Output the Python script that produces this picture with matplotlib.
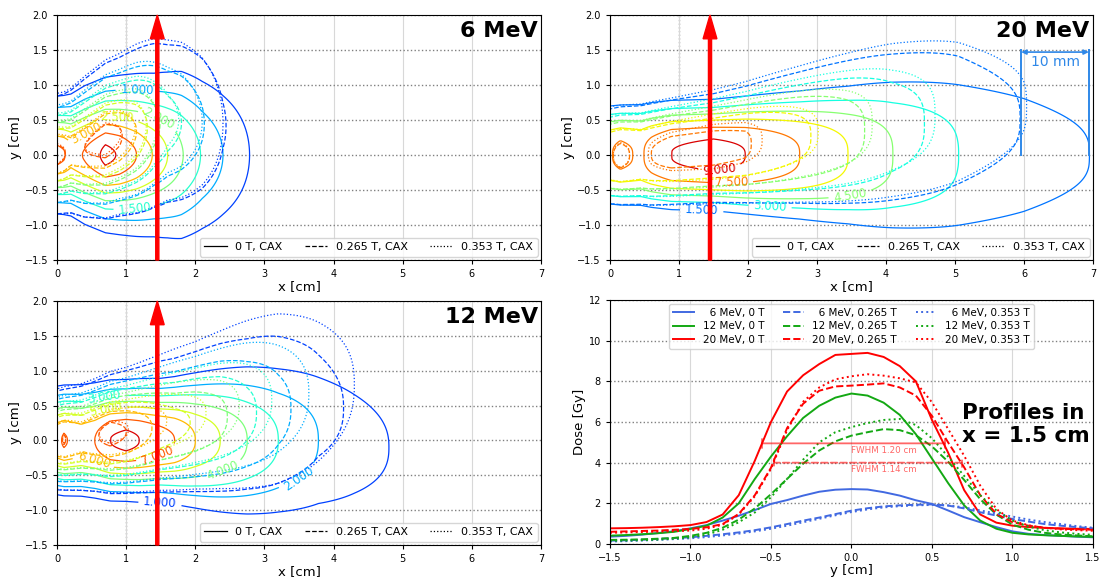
import numpy as np
import matplotlib
matplotlib.use('Agg')
import matplotlib.pyplot as plt
from matplotlib.colors import Normalize
from matplotlib.lines import Line2D

fields = ['0 T', '0.265 T', '0.353 T']
styles = ['solid', 'dashed', 'dotted']

# --- dose maps: per energy, central dose / beam centre / lateral width at depth nodes
# order inside each list: 0 T, 0.265 T, 0.353 T
depth6 = [0, 0.1, 0.2, 0.4, 0.7, 0.9, 1.15, 1.4, 1.6, 1.8, 2.1, 2.4, 2.8, 3.2, 7.0]
dose6 = [[3.7, 3.55, 3.25, 3.55, 4.15, 3.95, 3.5, 2.95, 2.5, 2.05, 1.45, 1.0, 0.48, 0.1, 0.0],
         [3.7, 3.55, 3.3, 3.5, 3.85, 3.6, 3.0, 2.2, 1.75, 1.5, 1.05, 0.55, 0.1, 0.0, 0.0],
         [3.7, 3.55, 3.3, 3.5, 3.8, 3.55, 2.95, 2.15, 1.7, 1.45, 1.0, 0.5, 0.08, 0.0, 0.0]]
centre6 = [[0.0] * 15,
           [0.0, 0.02, 0.05, 0.1, 0.2, 0.26, 0.34, 0.42, 0.45, 0.46, 0.45, 0.42, 0.4, 0.4, 0.4],
           [0.02, 0.03, 0.06, 0.12, 0.23, 0.3, 0.38, 0.46, 0.5, 0.5, 0.48, 0.45, 0.42, 0.42, 0.42]]
width6 = [[0.42, 0.43, 0.45, 0.5, 0.54, 0.56, 0.59, 0.62, 0.66, 0.71, 0.72, 0.72, 0.7, 0.65, 0.6],
          [0.42, 0.43, 0.45, 0.5, 0.55, 0.57, 0.62, 0.68, 0.71, 0.74, 0.76, 0.74, 0.7, 0.7, 0.7],
          [0.43, 0.44, 0.46, 0.51, 0.56, 0.58, 0.64, 0.7, 0.73, 0.76, 0.77, 0.75, 0.7, 0.7, 0.7]]
levels6 = [0.5, 1.0, 1.5, 2.0, 2.5, 3.0, 3.5, 4.0]
lab6 = [(1.0, 1.16, 0.88), (1.5, 1.13, -0.7), (2.0, 1.47, 0.51), (2.5, 0.87, 0.51), (3.0, 0.43, 0.36)]

depth12 = [0, 0.1, 0.35, 0.55, 0.77, 1.0, 1.19, 1.5, 1.7, 2.0, 2.36, 2.75, 3.2, 3.78, 4.3, 4.8, 5.3, 7.0]
dose12 = [[6.8, 7.1, 6.6, 7.0, 8.0, 8.25, 8.0, 7.4, 7.0, 6.0, 5.0, 4.0, 3.0, 2.0, 1.45, 1.0, 0.3, 0.0],
          [6.8, 7.05, 6.55, 6.9, 7.3, 7.0, 6.5, 5.65, 5.3, 4.9, 4.25, 3.3, 2.3, 1.35, 0.85, 0.2, 0.0, 0.0],
          [6.8, 7.05, 6.55, 6.9, 7.25, 7.05, 6.75, 6.15, 5.8, 5.3, 4.6, 3.75, 2.8, 1.75, 1.0, 0.45, 0.0, 0.0]]
centre12 = [[0.0] * 14 + [-0.05, -0.1, -0.1, -0.1],
            [0.0, 0.01, 0.03, 0.06, 0.09, 0.12, 0.15, 0.2, 0.22, 0.27, 0.33, 0.38, 0.44, 0.5, 0.45, 0.4, 0.4, 0.4],
            [0.02, 0.03, 0.05, 0.08, 0.12, 0.15, 0.19, 0.26, 0.3, 0.36, 0.44, 0.52, 0.6, 0.7, 0.8, 0.85, 0.85, 0.85]]
width12 = [[0.445, 0.45, 0.46, 0.47, 0.48, 0.48, 0.49, 0.5, 0.52, 0.57, 0.63, 0.69, 0.74, 0.79, 0.8, 0.78, 0.75, 0.7],
           [0.405, 0.41, 0.43, 0.45, 0.48, 0.5, 0.52, 0.56, 0.58, 0.62, 0.68, 0.75, 0.85, 0.9, 0.85, 0.8, 0.8, 0.8],
           [0.41, 0.42, 0.44, 0.46, 0.49, 0.51, 0.53, 0.57, 0.6, 0.64, 0.71, 0.8, 0.9, 0.95, 0.9, 0.85, 0.85, 0.85]]
levels12 = [1.0, 2.0, 3.0, 4.0, 5.0, 6.0, 7.0, 8.0]
lab12 = [(1.0, 1.49, -0.91), (2.0, 3.49, -0.45), (3.0, 0.68, 0.63), (4.0, 2.39, -0.35),
         (5.0, 0.7, 0.51), (6.0, 0.53, -0.27), (7.0, 1.45, -0.16)]

depth20 = [0, 0.15, 0.45, 0.6, 0.89, 1.5, 1.96, 2.75, 3.45, 4.1, 5.05, 6.0, 6.95, 7.0]
dose20 = [[7.4, 7.8, 7.3, 8.0, 9.0, 9.4, 9.0, 7.5, 6.0, 4.5, 3.0, 2.2, 1.5, 1.45],
          [7.4, 7.7, 7.25, 7.5, 7.85, 7.9, 7.65, 6.3, 5.0, 3.65, 2.3, 1.45, 0.2, 0.15],
          [7.4, 7.7, 7.25, 7.6, 8.1, 8.3, 7.95, 6.5, 5.2, 3.9, 2.5, 1.55, 0.3, 0.2]]
centre20 = [[0.0] * 14,
            [-0.02, -0.01, 0.0, 0.01, 0.04, 0.1, 0.15, 0.25, 0.33, 0.4, 0.5, 0.52, 0.5, 0.5],
            [0.0, 0.0, 0.01, 0.02, 0.05, 0.12, 0.18, 0.3, 0.4, 0.5, 0.62, 0.7, 0.7, 0.7]]
width20 = [[0.475, 0.48, 0.49, 0.5, 0.51, 0.516, 0.55, 0.62, 0.7, 0.8, 0.9, 0.88, 0.75, 0.75],
           [0.46, 0.47, 0.48, 0.49, 0.5, 0.52, 0.56, 0.66, 0.76, 0.86, 0.96, 0.8, 0.7, 0.7],
           [0.47, 0.48, 0.49, 0.5, 0.51, 0.54, 0.58, 0.68, 0.78, 0.88, 0.98, 0.85, 0.7, 0.7]]
levels20 = [1.5, 3.0, 4.5, 6.0, 7.5, 9.0]
lab20 = [(1.5, 1.33, -0.78), (3.0, 2.32, -0.67), (4.5, 3.48, -0.4), (7.5, 1.76, -0.33), (9.0, 1.59, -0.18)]

# --- profiles at x = 1.5 cm
prof_y = np.round(np.arange(-1.5, 1.51, 0.1), 2)
prof6 = [[0.36, 0.4, 0.46, 0.54, 0.63, 0.77, 0.93, 1.15, 1.39, 1.67, 1.97, 2.16, 2.38, 2.57, 2.67, 2.7,
          2.68, 2.55, 2.38, 2.15, 1.97, 1.65, 1.32, 1.07, 0.83, 0.62, 0.5, 0.44, 0.4, 0.36, 0.33],
         [0.16, 0.18, 0.21, 0.25, 0.29, 0.33, 0.4, 0.48, 0.57, 0.68, 0.82, 0.98, 1.15, 1.3, 1.47, 1.64,
          1.76, 1.85, 1.9, 1.93, 1.95, 1.89, 1.75, 1.56, 1.4, 1.23, 1.1, 0.98, 0.9, 0.83, 0.77],
         [0.12, 0.14, 0.17, 0.2, 0.24, 0.28, 0.34, 0.42, 0.51, 0.62, 0.75, 0.9, 1.07, 1.24, 1.41, 1.57,
          1.7, 1.8, 1.86, 1.9, 1.92, 1.9, 1.8, 1.65, 1.5, 1.35, 1.2, 1.08, 0.98, 0.88, 0.8]]
prof12 = [[0.41, 0.44, 0.48, 0.53, 0.6, 0.74, 0.9, 1.3, 2.0, 3.2, 4.3, 5.3, 6.2, 6.8, 7.2, 7.4,
           7.3, 6.95, 6.35, 5.4, 4.2, 3.0, 1.9, 1.15, 0.75, 0.55, 0.47, 0.43, 0.4, 0.37, 0.35],
          [0.2, 0.21, 0.23, 0.26, 0.3, 0.4, 0.55, 0.8, 1.2, 1.75, 2.45, 3.2, 3.95, 4.6, 5.05, 5.33,
           5.5, 5.65, 5.6, 5.35, 4.8, 4.05, 3.15, 2.2, 1.45, 0.95, 0.7, 0.55, 0.47, 0.42, 0.38],
          [0.16, 0.17, 0.19, 0.22, 0.26, 0.33, 0.46, 0.7, 1.07, 1.55, 2.3, 3.2, 4.15, 5.0, 5.5, 5.75,
           5.95, 6.1, 6.15, 5.85, 5.2, 4.3, 3.35, 2.4, 1.65, 1.15, 0.85, 0.68, 0.57, 0.5, 0.45]]
prof20 = [[0.77, 0.78, 0.8, 0.83, 0.87, 0.93, 1.08, 1.45, 2.4, 4.1, 6.0, 7.5, 8.3, 8.85, 9.3, 9.35,
           9.4, 9.2, 8.75, 8.0, 6.1, 4.5, 2.65, 1.45, 1.05, 0.9, 0.83, 0.79, 0.77, 0.75, 0.74],
          [0.6, 0.62, 0.64, 0.66, 0.7, 0.74, 0.82, 0.98, 1.48, 2.4, 3.75, 5.7, 6.9, 7.54, 7.75, 7.79,
           7.84, 7.9, 7.7, 7.3, 6.3, 5.0, 3.77, 2.4, 1.48, 1.07, 0.9, 0.8, 0.75, 0.72, 0.7],
          [0.55, 0.57, 0.59, 0.61, 0.63, 0.66, 0.75, 0.95, 1.45, 2.35, 3.7, 5.6, 7.0, 7.7, 8.1, 8.25,
           8.35, 8.28, 8.15, 7.95, 6.97, 5.66, 4.34, 2.87, 1.72, 1.15, 0.92, 0.8, 0.72, 0.68, 0.65]]

fwhm_dose = [4.95, 4.0]
fwhm_left = [-0.556, -0.48]
fwhm_right = [0.58, 0.685]
fwhm_text = ['FWHM 1.20 cm', 'FWHM 1.14 cm']

arrow_x = 1.45
bar_x = [5.96, 6.94]

xg = np.linspace(0, 7, 351)
yg = np.linspace(-1.5, 2.0, 351)


def dose_map(depth, dose, centre, width, power):
    P = np.interp(xg, depth, dose)
    c = np.interp(xg, depth, centre)
    s = np.interp(xg, depth, width)
    u = np.abs((yg[:, None] - c[None, :]) / s[None, :])
    return P[None, :] * np.exp(-0.5 * u ** power)


def on_contour(D, lev, lx, ly):
    # move a label position onto the wanted level, so clabel snaps to it
    col = D[:, np.argmin(np.abs(xg - lx))] - lev
    idx = np.where(np.sign(col[:-1]) != np.sign(col[1:]))[0]
    if len(idx) == 0:
        return lx, ly
    ys = [yg[i] - col[i] * (yg[i + 1] - yg[i]) / (col[i + 1] - col[i]) for i in idx]
    return lx, min(ys, key=lambda v: abs(v - ly))


def grid_style(ax):
    ax.grid(axis='x', color='#d8d8d8', lw=0.8)
    ax.grid(axis='y', color='gray', ls=':', lw=1.0)
    ax.tick_params(labelsize=7, length=3, width=0.8)


def contour_panel(ax, title, depth, doses, centres, widths, power, levels, vmin, vmax, labels):
    norm = Normalize(vmin, vmax)
    for i in range(3):
        D = dose_map(depth, doses[i], centres[i], widths[i], power)
        cs = ax.contour(xg, yg, D, levels=levels, cmap='jet', norm=norm,
                        linewidths=0.9, linestyles=styles[i])
        if i == 0:
            pos = [on_contour(D, lev, lx, ly) for lev, lx, ly in labels]
            ax.clabel(cs, manual=pos, inline=True, fmt='%1.3f', fontsize=8.5)
    ax.set_xlim(0, 7)
    ax.set_ylim(-1.5, 2.0)
    ax.set_xticks(range(8))
    ax.set_yticks(np.arange(-1.5, 2.01, 0.5))
    grid_style(ax)
    ax.axvline(1, color='gray', ls=':', lw=1.0, zorder=0.5)
    ax.set_xlabel('x [cm]', fontsize=9.5, labelpad=1)
    ax.set_ylabel('y [cm]', fontsize=9.5, labelpad=2)
    ax.text(0.993, 0.935, title, transform=ax.transAxes, ha='right', va='center',
            fontsize=16, fontweight='bold')
    handles = [Line2D([], [], color='black', lw=0.9, ls=st) for st in styles]
    ax.legend(handles, [f + ', CAX' for f in fields], loc='lower right', ncol=3,
              fontsize=8, borderaxespad=0.3)
    ax.arrow(arrow_x, -1.5, 0, 3.5, width=0.045, head_width=0.2, head_length=0.34,
             length_includes_head=True, color='red', zorder=10, clip_on=False)


fig = plt.figure(figsize=(11.01, 5.81), dpi=100)
ax6 = fig.add_axes([0.0518, 0.5525, 0.4396, 0.4217])
ax20 = fig.add_axes([0.554, 0.5525, 0.4387, 0.4217])
ax12 = fig.add_axes([0.0518, 0.062, 0.4396, 0.4199])
axp = fig.add_axes([0.554, 0.0637, 0.4387, 0.4199])

contour_panel(ax6, '6 MeV', depth6, dose6, centre6, width6, 2.0, levels6, -0.41, 4.38, lab6)
contour_panel(ax12, '12 MeV', depth12, dose12, centre12, width12, 2.4, levels12, -0.82, 8.77, lab12)
contour_panel(ax20, '20 MeV', depth20, dose20, centre20, width20, 3.0, levels20, -1.15, 9.88, lab20)

# 10 mm scale bar
bar_col = '#2f88e8'
for bx in bar_x:
    ax20.plot([bx, bx], [0, 1.5], color=bar_col, lw=1.4)
ax20.annotate('', xy=(bar_x[0], 1.47), xytext=(bar_x[1], 1.47),
              arrowprops=dict(arrowstyle='<|-|>', color=bar_col, lw=1.2,
                              shrinkA=0, shrinkB=0, mutation_scale=7))
ax20.text(np.mean(bar_x), 1.33, '10 mm', color=bar_col, fontsize=10, ha='center', va='center')

# profile panel
colors = ['royalblue', '#13a813', 'red']
energies = ['\u20076 MeV', '12 MeV', '20 MeV']
profiles = [prof6, prof12, prof20]
for j in range(3):
    for i in range(3):
        axp.plot(prof_y, profiles[i][j], color=colors[i], ls=styles[j], lw=1.4,
                 label=energies[i] + ', ' + fields[j])

for k in range(2):
    axp.annotate('', xy=(fwhm_left[k], fwhm_dose[k]), xytext=(fwhm_right[k], fwhm_dose[k]),
                 arrowprops=dict(arrowstyle='|-|', color='red', alpha=0.6, lw=1.3,
                                 ls=styles[k], shrinkA=0, shrinkB=0, mutation_scale=3))
    axp.text(0.0, fwhm_dose[k] - 0.12, fwhm_text[k], color='red', alpha=0.6,
             fontsize=6.3, ha='left', va='top')

axp.set_xlim(-1.5, 1.5)
axp.set_ylim(0, 12)
axp.set_xticks(np.arange(-1.5, 1.51, 0.5))
axp.set_yticks(range(0, 13, 2))
grid_style(axp)
axp.set_xlabel('y [cm]', fontsize=9.5, labelpad=1)
axp.set_ylabel('Dose [Gy]', fontsize=9.5, labelpad=2)
axp.legend(loc='upper center', ncol=3, fontsize=7.5, borderaxespad=0.35,
           labelspacing=0.35, columnspacing=1.8)
axp.text(0.729, 0.49, 'Profiles in\nx = 1.5 cm', transform=axp.transAxes, ha='left',
         va='center', fontsize=15.5, fontweight='bold')

fig.savefig('out.png', dpi=100)
